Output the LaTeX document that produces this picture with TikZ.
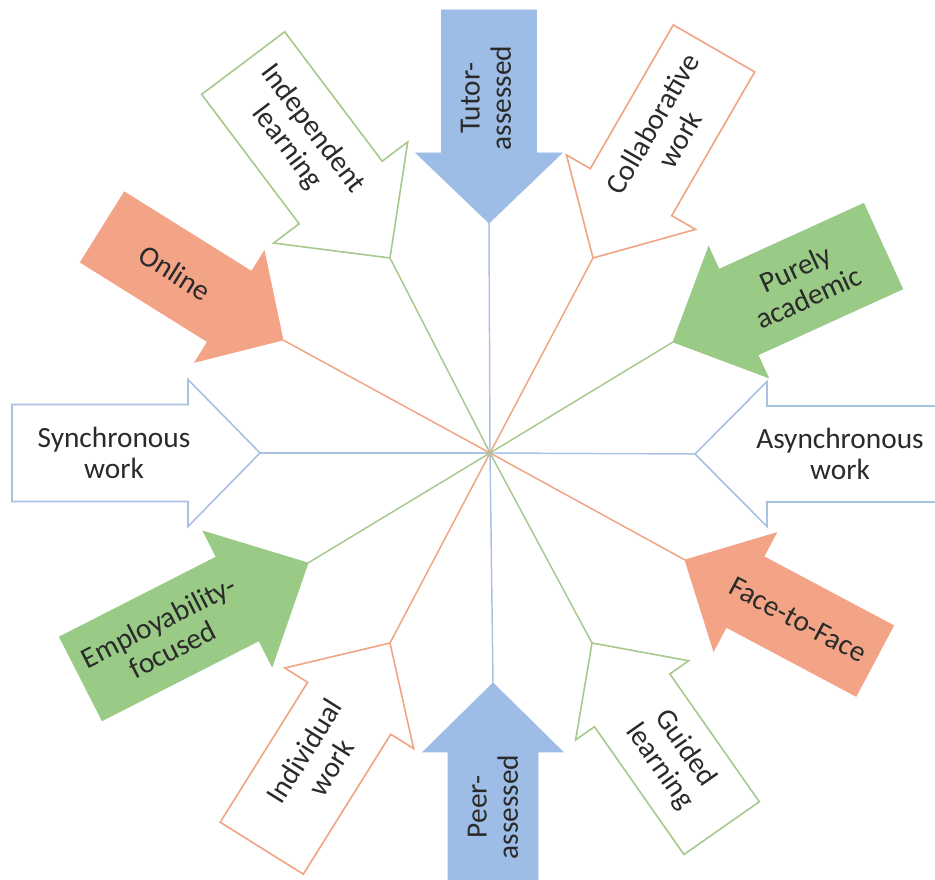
\documentclass[tikz,border=0pt]{standalone}
\usepackage{fontspec}
\setmainfont{Carlito}
\definecolor{bfill}{HTML}{9DBDE6}
\definecolor{gfill}{HTML}{9ACB86}
\definecolor{ofill}{HTML}{F3A487}
\definecolor{bline}{HTML}{A9C1E3}
\definecolor{gline}{HTML}{A8C98E}
\definecolor{oline}{HTML}{F1A483}
\definecolor{txt}{HTML}{2A2A2A}
\tikzset{
  lbl/.style={text=txt, font=\fontsize{22}{23.5}\selectfont, align=center, inner sep=0pt},
  bluesolid/.style={fill=bfill, draw=bfill, line width=0.6pt},
  greensolid/.style={fill=gfill, draw=gfill, line width=0.6pt},
  orangesolid/.style={fill=ofill, draw=ofill, line width=0.6pt},
  bluebox/.style={fill=white, draw=bline, line width=1.2pt},
  greenbox/.style={fill=white, draw=gline, line width=1.2pt},
  orangebox/.style={fill=white, draw=oline, line width=1.2pt},
  spoke/.style={line width=1.1pt},
}
% L, w, h, a, style
\newcommand{\arrowbody}[5]{\draw[#5] (-#1,#2) -- (-#4,#2) -- (-#4,#3) -- (0,0) -- (-#4,-#3) -- (-#4,-#2) -- (-#1,-#2) -- cycle;}
\begin{document}
\begin{tikzpicture}[x=0.75pt,y=0.75pt]
\useasboundingbox (0,0) rectangle (935,880);
\fill[white] (0,0) rectangle (935,880);
\clip (0,0) rectangle (935,880);
\coordinate (c) at (490,427);

% filled arrows
\begin{scope}[shift={(489,657)}, rotate=-90]
  \coordinate (tutorTip) at (0,0);
  \arrowbody{213}{47.5}{73}{70}{bluesolid}
  \node[lbl, rotate=90] (tutor) at (-125,-3) {Tutor-\\assessed};
\end{scope}
\begin{scope}[shift={(493,197)}, rotate=90]
  \coordinate (peerTip) at (0,0);
  \arrowbody{215}{45}{70}{69}{bluesolid}
  \node[lbl, rotate=90] (peer) at (-124,0) {Peer-\\assessed};
\end{scope}
\begin{scope}[shift={(673,538)}, rotate=-155.5]
  \coordinate (purelyTip) at (0,0);
  \arrowbody{231}{47}{72}{72}{greensolid}
  \node[lbl, rotate=24.5] (purely) at (-142,0) {Purely\\academic};
\end{scope}
\begin{scope}[shift={(308,317)}, rotate=27]
  \coordinate (employTip) at (0,0);
  \arrowbody{255}{47}{76}{79}{greensolid}
  \node[lbl, rotate=27] (employ) at (-160,0) {Employability-\\focused};
\end{scope}
\begin{scope}[shift={(685,320)}, rotate=152]
  \coordinate (faceTip) at (0,0);
  \arrowbody{215}{40}{67}{68}{orangesolid}
  \node[lbl, rotate=-28] (face) at (-128,0) {Face-to-Face};
\end{scope}
\begin{scope}[shift={(283,540)}, rotate=-32]
  \coordinate (onlineTip) at (0,0);
  \arrowbody{213}{41.5}{65.5}{63}{orangesolid}
  \node[lbl, rotate=-32] (online) at (-127,0) {Online};
\end{scope}

% outlined arrows
\begin{scope}[shift={(260,427)}, rotate=0]
  \coordinate (syncTip) at (0,0);
  \arrowbody{248}{48.5}{73.5}{72}{bluebox}
  \node[lbl] (sync) at (-146,0) {Synchronous\\work};
\end{scope}
\begin{scope}[shift={(695,426)}, rotate=180]
  \coordinate (asyncTip) at (0,0);
  \arrowbody{250}{48}{72.5}{72}{bluebox}
  \node[lbl] (async) at (-145,0) {Asynchronous\\work};
\end{scope}
\begin{scope}[shift={(593,622)}, rotate=-120]
  \coordinate (collabTip) at (0,0);
  \arrowbody{242}{47}{74.5}{76}{orangebox}
  \node[lbl, rotate=60] (collab) at (-146,0) {Collaborative\\work};
\end{scope}
\begin{scope}[shift={(390,237)}, rotate=58]
  \coordinate (indivTip) at (0,0);
  \arrowbody{242}{49}{76}{77}{orangebox}
  \node[lbl, rotate=58] (indiv) at (-137,0) {Individual\\work};
\end{scope}
\begin{scope}[shift={(592,237)}, rotate=125]
  \coordinate (guidedTip) at (0,0);
  \arrowbody{226}{46}{69}{70}{greenbox}
  \node[lbl, rotate=-55] (guided) at (-140,0) {Guided\\learning};
\end{scope}
\begin{scope}[shift={(390,622)}, rotate=-53]
  \coordinate (indepTip) at (0,0);
  \arrowbody{244}{52}{84}{82}{greenbox}
  \node[lbl, rotate=-53] (indep) at (-150,0) {Independent\\learning};
\end{scope}

% spokes
\draw[spoke, bline] (tutorTip) -- (c);
\draw[spoke, bline] (peerTip) -- (c);
\draw[spoke, bline] (syncTip) -- (c);
\draw[spoke, bline] (asyncTip) -- (c);
\draw[spoke, oline] (collabTip) -- (c);
\draw[spoke, oline] (indivTip) -- (c);
\draw[spoke, oline] (onlineTip) -- (c);
\draw[spoke, oline] (faceTip) -- (c);
\draw[spoke, gline] (indepTip) -- (c);
\draw[spoke, gline] (guidedTip) -- (c);
\draw[spoke, gline] (purelyTip) -- (c);
\draw[spoke, gline] (employTip) -- (c);
\end{tikzpicture}
\end{document}
